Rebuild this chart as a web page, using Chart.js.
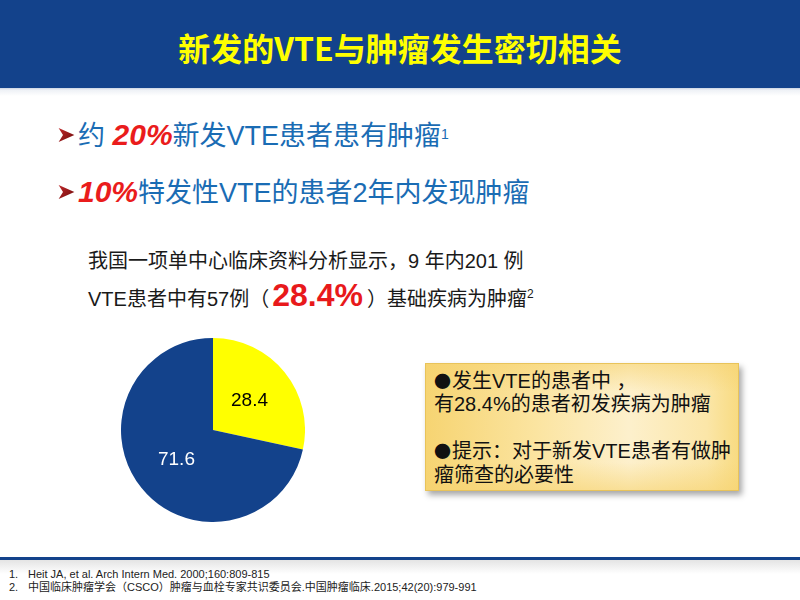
<!DOCTYPE html>
<html>
<head>
<meta charset="utf-8">
<script src="https://cdn.jsdelivr.net/npm/chart.js@4/dist/chart.umd.min.js"></script>
<style>
  html, body { margin:0; padding:0; background:#fff; }
  body { width:800px; height:600px; position:relative; overflow:hidden;
         font-family:"Liberation Sans", Arial, "Noto Sans CJK SC", sans-serif; }
  .abs { position:absolute; white-space:nowrap; }
  #header { left:0; top:0; width:800px; height:88px; background:#13428B; }
  #headerShadow { left:0; top:88px; width:800px; height:8px;
     background:linear-gradient(to bottom, #c9d3e3 0px, #eef1f6 2px, #ffffff 8px); }
  #title { left:0; width:800px; top:28px; text-align:center; color:#FFFF00;
     font-family:"Noto Sans CJK SC", sans-serif; font-weight:bold; font-size:32px; line-height:38px; }
  .bullet { color:#1A6CB4; font-size:27px; line-height:32px; font-family:"Liberation Sans", "Noto Sans CJK SC", sans-serif; }
  .red { color:#EA1C1C; font-weight:bold; font-style:italic; font-size:30px; }
  .sup { font-size:14px; vertical-align:top; position:relative; top:-1px; }
  .para { color:#1a1a1a; font-size:20px; line-height:30px; }
  .big { color:#E8191B; font-weight:bold; font-size:32px; margin:0 4px 0 3px; }
  #box { left:425px; top:363px; width:314px; height:128px; box-sizing:border-box;
     border:1px solid #e8c35a;
     background:
       linear-gradient(to bottom, rgba(246,210,110,0.55) 0%, rgba(255,255,255,0) 22%, rgba(255,255,255,0) 78%, rgba(246,210,110,0.55) 100%),
       linear-gradient(to right, #f6d472 0%, #fbe4a0 35%, #fdf0cc 65%, #fbe6a8 90%, #f8db82 100%);
     box-shadow: 3px 4px 6px rgba(0,0,0,0.35); }
  .boxt { color:#111; font-size:20px; line-height:22px; font-family:"Liberation Sans", "Noto Sans CJK SC", sans-serif; }
  .dot { font-family:"Noto Sans CJK SC", sans-serif; font-size:17px; margin-right:1px; }
  #footLine { left:0; top:557px; width:800px; height:3px; background:#13428B; }
  #footShadow { left:0; top:560px; width:800px; height:14px;
     background:linear-gradient(to bottom, #e4e4e4, #ffffff); }
  .foot { color:#222; font-size:11px; line-height:13px; }
  #pieWrap { left:121px; top:338px; width:184px; height:184px; }
</style>
</head>
<body>
<div id="header" class="abs"></div>
<div id="headerShadow" class="abs"></div>
<div id="title" class="abs">新发的VTE与肿瘤发生密切相关</div>

<svg class="abs" style="left:58px;top:128px" width="17" height="14" viewBox="0 0 18 16">
  <defs><linearGradient id="ag" x1="0" y1="0" x2="1" y2="1"><stop offset="0" stop-color="#c0282a"/><stop offset="1" stop-color="#6e0c0c"/></linearGradient></defs>
  <polygon points="0,0 18,8 0,16 5,8" fill="url(#ag)"/>
</svg>
<div class="abs bullet" style="left:78px;top:119px">约 <span class="red">20%</span>新发VTE患者患有肿瘤<span class="sup">1</span></div>

<svg class="abs" style="left:58px;top:185px" width="17" height="14" viewBox="0 0 18 16">
  <polygon points="0,0 18,8 0,16 5,8" fill="url(#ag)"/>
</svg>
<div class="abs bullet" style="left:78px;top:176px"><span class="red">10%</span>特发性VTE的患者2年内发现肿瘤</div>

<div class="abs para" style="left:88px;top:246px">我国一项单中心临床资料分析显示，9 年内201 例</div>
<div class="abs para" style="left:88px;top:280px">VTE患者中有57例（<span class="big">28.4%</span>）基础疾病为肿瘤<span class="sup" style="font-size:12px">2</span></div>

<div id="pieWrap" class="abs"><canvas id="pie"></canvas></div>

<div id="box" class="abs"></div>
<div class="abs boxt" style="left:434px;top:370px"><span class="dot">●</span>发生VTE的患者中 ，</div>
<div class="abs boxt" style="left:434px;top:393px">有28.4%的患者初发疾病为肿瘤</div>
<div class="abs boxt" style="left:434px;top:440px"><span class="dot">●</span>提示：对于新发VTE患者有做肿</div>
<div class="abs boxt" style="left:434px;top:464px">瘤筛查的必要性</div>

<div id="footLine" class="abs"></div>
<div id="footShadow" class="abs"></div>
<div class="abs foot" style="left:9px;top:568px">1.</div>
<div class="abs foot" style="left:28px;top:568px">Heit JA, et al. Arch Intern Med. 2000;160:809-815</div>
<div class="abs foot" style="left:9px;top:581px">2.</div>
<div class="abs foot" style="left:28px;top:581px">中国临床肿瘤学会（CSCO）肿瘤与血栓专家共识委员会.中国肿瘤临床.2015;42(20):979-991</div>

<script>
const categories = ['基础疾病为肿瘤', '其他'];
const values = [28.4, 71.6];
const sliceColors = ['#FFFF00', '#13428B'];
const labelColors = ['#000000', '#FFFFFF'];

const sliceLabels = {
  id: 'sliceLabels',
  afterDatasetsDraw(chart) {
    const ctx = chart.ctx;
    const meta = chart.getDatasetMeta(0);
    ctx.save();
    ctx.font = '19px "Liberation Sans", Arial, sans-serif';
    ctx.textAlign = 'center';
    ctx.textBaseline = 'middle';
    meta.data.forEach((arc, i) => {
      const p = arc.getProps(['x','y','startAngle','endAngle','outerRadius'], true);
      const mid = (p.startAngle + p.endAngle) / 2;
      const r = p.outerRadius * 0.51;
      ctx.fillStyle = labelColors[i];
      ctx.fillText(String(values[i]), p.x + Math.cos(mid) * r, p.y + Math.sin(mid) * r);
    });
    ctx.restore();
  }
};

new Chart(document.getElementById('pie'), {
  type: 'pie',
  data: { labels: categories, datasets: [{ data: values, backgroundColor: sliceColors, borderWidth: 0 }] },
  options: {
    responsive: true, maintainAspectRatio: false, animation: false,
    layout: { padding: 0 },
    plugins: { legend: { display: false }, tooltip: { enabled: false } }
  },
  plugins: [sliceLabels]
});
</script>
</body>
</html>
